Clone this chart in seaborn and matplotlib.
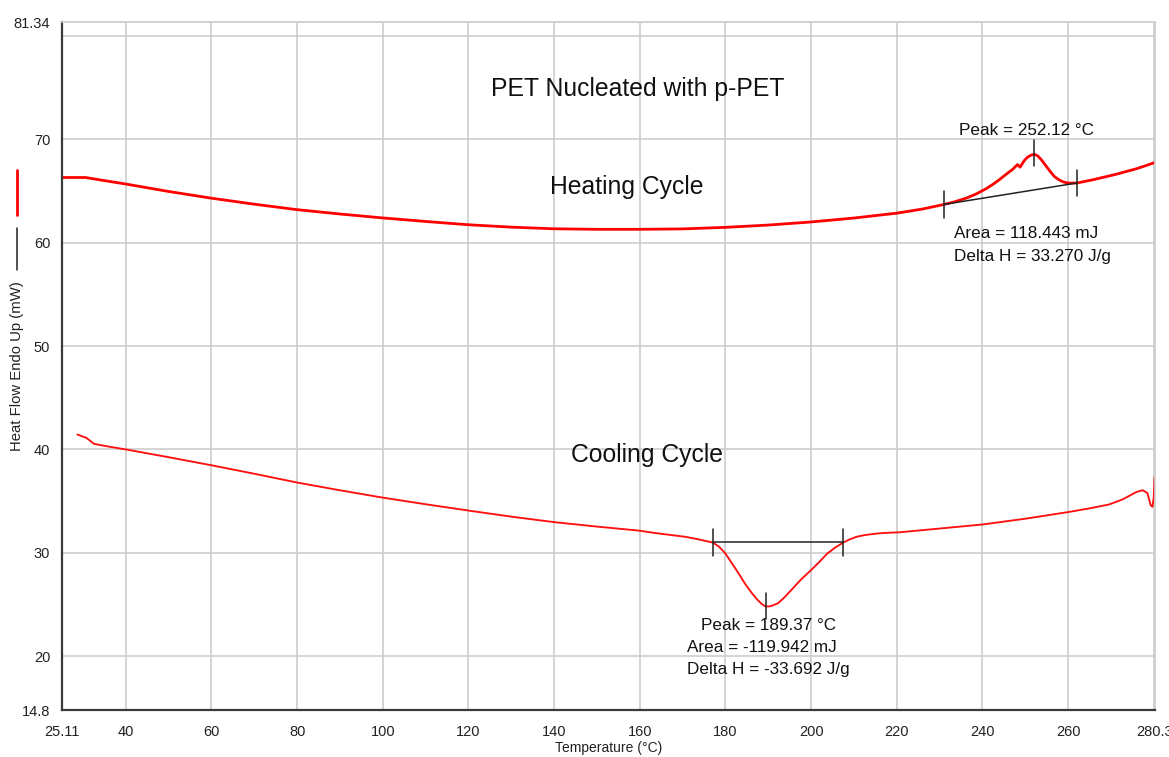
import matplotlib
matplotlib.use("Agg")
import matplotlib.pyplot as plt
import seaborn as sns
from matplotlib.lines import Line2D

# ---- DSC traces: temperature (°C) and heat flow (mW) ----
heat_T = [25.11, 27.0, 30.6, 35.0, 40.0, 50.0, 60.0, 70.0, 80.0, 90.0, 100.0,
          110.0, 120.0, 130.0, 140.0, 150.0, 160.0, 170.0, 180.0, 190.0, 200.0,
          210.0, 220.0, 226.0, 231.1, 233.5, 236.2, 238.5, 240.8, 242.5, 244.0,
          245.5, 247.1, 248.2, 248.8, 249.8, 250.5, 251.3, 252.12, 252.9, 253.8,
          254.8, 255.8, 256.8, 257.8, 258.7, 259.6, 260.5, 262.1, 266.0, 271.1,
          276.0, 280.3]
heat_mW = [66.3, 66.3, 66.3, 66.0, 65.67, 64.95, 64.3, 63.72, 63.19, 62.77, 62.39,
           62.05, 61.73, 61.5, 61.34, 61.29, 61.29, 61.33, 61.48, 61.7, 62.0,
           62.38, 62.85, 63.25, 63.7, 63.95, 64.3, 64.7, 65.2, 65.65, 66.1,
           66.6, 67.1, 67.55, 67.3, 67.95, 68.25, 68.45, 68.55, 68.4, 68.0,
           67.45, 66.9, 66.4, 66.1, 65.9, 65.8, 65.76, 65.77, 66.1, 66.6,
           67.15, 67.75]

cool_T = [28.7, 30.8, 32.6, 35.0, 40.0, 50.0, 60.0, 70.0, 80.0, 90.0, 100.0,
          110.0, 120.0, 130.0, 140.0, 150.0, 160.0, 163.0, 170.8, 174.0, 177.1,
          178.5, 180.0, 181.5, 183.1, 184.6, 186.2, 187.5, 188.5, 189.37, 190.3,
          191.3, 192.3, 193.8, 195.4, 197.6, 200.0, 202.0, 203.8, 205.6, 207.5,
          209.0, 210.6, 212.3, 214.5, 216.9, 220.8, 230.0, 240.0, 250.0, 260.0,
          265.0, 269.6, 272.7, 275.9, 277.4, 278.5, 279.3, 279.7, 280.0, 280.2]
cool_mW = [41.44, 41.12, 40.54, 40.35, 40.0, 39.25, 38.47, 37.65, 36.8, 36.05, 35.34,
           34.7, 34.09, 33.5, 32.97, 32.54, 32.14, 31.95, 31.54, 31.28, 30.99,
           30.6, 29.94, 29.0, 28.0, 27.0, 26.09, 25.45, 25.05, 24.81, 24.82,
           24.95, 25.13, 25.7, 26.41, 27.4, 28.33, 29.15, 29.94, 30.5, 30.99,
           31.3, 31.55, 31.7, 31.83, 31.92, 31.99, 32.35, 32.74, 33.3, 33.94,
           34.3, 34.68, 35.16, 35.87, 36.06, 35.8, 34.6, 34.45, 35.3, 37.3]

# ---- peak integration limits and results ----
heat_limits_T = [231.1, 262.1]
heat_limits_mW = [63.7, 65.77]
heat_peak_T, heat_peak_mW = 252.12, 68.55
heat_labels = ["Peak = 252.12 \u00b0C", "Area = 118.443 mJ", "Delta H = 33.270 J/g"]

cool_limits_T = [177.1, 207.5]
cool_limits_mW = [31.0, 31.0]
cool_peak_T, cool_peak_mW = 189.37, 24.81
cool_labels = ["Peak = 189.37 \u00b0C", "Area = -119.942 mJ", "Delta H = -33.692 J/g"]

# ---- axis ticks ----
x_ticks = [25.11, 40, 60, 80, 100, 120, 140, 160, 180, 200, 220, 240, 260, 280, 280.3]
x_tick_labels = ["25.11", "40", "60", "80", "100", "120", "140", "160", "180",
                 "200", "220", "240", "260", "", "280.3"]
y_ticks = [14.8, 20, 30, 40, 50, 60, 70, 80, 81.34]
y_tick_labels = ["14.8", "20", "30", "40", "50", "60", "70", "", "81.34"]

sns.set_theme(style="white")
plt.rcParams["font.family"] = ["Liberation Sans", "DejaVu Sans"]

W, H = 1169, 757
fig = plt.figure(figsize=(W / 100, H / 100), dpi=100)
ax = fig.add_axes([62 / W, 1 - 710 / H, (1155 - 62) / W, (710 - 22) / H])

sns.lineplot(x=heat_T, y=heat_mW, color="#ff0000", linewidth=2.0, sort=False,
             estimator=None, ax=ax)
sns.lineplot(x=cool_T, y=cool_mW, color="#ff1010", linewidth=1.35, sort=False,
             estimator=None, ax=ax)

ax.set_xlim(25.11, 280.3)
ax.set_ylim(14.8, 81.34)

# integration baselines and limit markers
line_kw = dict(color="#222222", linewidth=1.1, zorder=4)
mark_half = 1.3
ax.plot(heat_limits_T, heat_limits_mW, **line_kw)
ax.plot(cool_limits_T, cool_limits_mW, **line_kw)
for t, v in zip(heat_limits_T + cool_limits_T, heat_limits_mW + cool_limits_mW):
    ax.plot([t, t], [v - mark_half, v + mark_half], **line_kw)
ax.plot([heat_peak_T, heat_peak_T], [heat_peak_mW - 1.15, heat_peak_mW + 1.35], **line_kw)
ax.plot([cool_peak_T, cool_peak_T], [cool_peak_mW - 1.25, cool_peak_mW + 1.35], **line_kw)

# text labels
txt = dict(color="#111111", fontsize=12.3)
ax.text(234.6, 70.85, heat_labels[0], ha="left", va="center", **txt)
ax.text(233.3, 60.85, heat_labels[1], ha="left", va="center", **txt)
ax.text(233.3, 58.7, heat_labels[2], ha="left", va="center", **txt)
ax.text(174.3, 22.95, cool_labels[0], ha="left", va="center", **txt)
ax.text(171.0, 20.83, cool_labels[1], ha="left", va="center", **txt)
ax.text(171.0, 18.7, cool_labels[2], ha="left", va="center", **txt)

big = dict(color="#111111", fontsize=17.8, ha="center", va="center")
ax.text(159.5, 74.9, "PET Nucleated with p-PET", **big)
ax.text(156.9, 65.4, "Heating Cycle", **big)
ax.text(161.8, 39.5, "Cooling Cycle", **big)

# grid, ticks, spines
ax.set_xticks(x_ticks)
ax.set_xticklabels(x_tick_labels)
ax.set_yticks(y_ticks)
ax.set_yticklabels(y_tick_labels)
ax.grid(True, color="#cdcdcd", linewidth=1.2)
ax.set_axisbelow(True)
ax.tick_params(axis="both", which="major", direction="out", length=3.5, width=1.2,
               color="#333333", labelsize=10.5, labelcolor="#222222")
ax.tick_params(axis="y", pad=5)
ax.tick_params(axis="x", pad=7)
for side in ("left", "bottom"):
    ax.spines[side].set_color("#3a3a3a")
    ax.spines[side].set_linewidth(1.6)
for side in ("top", "right"):
    ax.spines[side].set_color("#cdcdcd")
    ax.spines[side].set_linewidth(1.2)

ax.set_xlabel("Temperature (\u00b0C)", fontsize=10, color="#222222")
ax.set_ylabel("Heat Flow Endo Up (mW)", fontsize=10.7, color="#222222")
ax.xaxis.label.set_va("center")
ax.yaxis.label.set_va("center")
ax.xaxis.set_label_coords(0.5, -0.0555)
ax.yaxis.set_label_coords(-0.0414, 0.5)

# trace key beside the y label
fig.add_artist(Line2D([17 / W, 17 / W], [1 - 170 / H, 1 - 215 / H],
                      color="#ff0000", linewidth=2.0))
fig.add_artist(Line2D([17 / W, 17 / W], [1 - 228 / H, 1 - 270 / H],
                      color="#222222", linewidth=1.1))

fig.savefig("out.png", dpi=100)
